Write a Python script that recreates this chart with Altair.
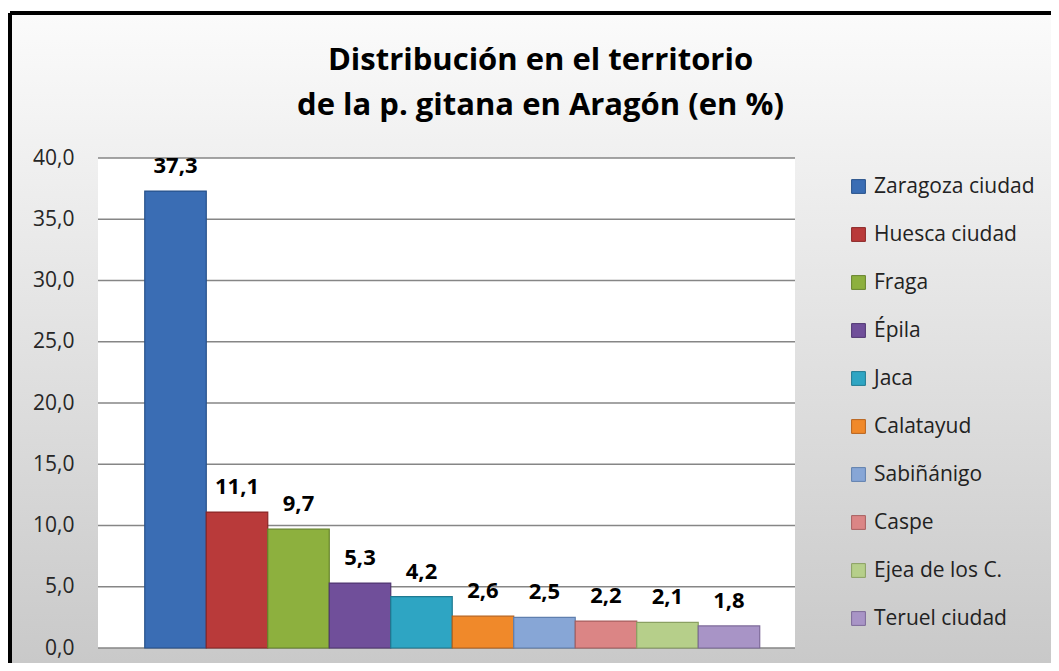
import altair as alt
import pandas as pd

categories = ["Zaragoza ciudad", "Huesca ciudad", "Fraga", "Épila", "Jaca",
              "Calatayud", "Sabiñánigo", "Caspe", "Ejea de los C.", "Teruel ciudad"]
values = [37.3, 11.1, 9.7, 5.3, 4.2, 2.6, 2.5, 2.2, 2.1, 1.8]
colors = ["#3a6db4", "#b93a3a", "#8db03e", "#704f9a", "#2ea5c3",
          "#f0892a", "#87a6d6", "#db8585", "#b6cf8a", "#a894c6"]
strokes = ["#27518a", "#8a2626", "#66832a", "#503672", "#1f7a91",
           "#b8621a", "#5f7fae", "#a85f5f", "#8aa062", "#7d6a99"]
y_ticks = [0, 5, 10, 15, 20, 25, 30, 35, 40]

W, H = 697, 490
FONT = "Open Sans"

df = pd.DataFrame({"cat": categories, "v": values})
grid_df = pd.DataFrame({"t": y_ticks})
bg_df = pd.DataFrame({"a": [0]})

yscale = alt.Scale(domain=[0, 40], nice=False)
yaxis = alt.Axis(values=y_ticks, grid=False, domain=False, ticks=False,
                 labelExpr="replace(format(datum.value, '.1f'), '.', ',')",
                 labelFontSize=21, labelColor="#262626", labelPadding=24,
                 labelFont=FONT, zindex=1, title=None)

bg = alt.Chart(bg_df).mark_rect(
    fill=alt.Gradient(gradient="linear",
                      stops=[alt.GradientStop(color="#fbfbfb", offset=0),
                             alt.GradientStop(color="#c9c9c9", offset=1)],
                      x1=0, x2=0, y1=0, y2=1),
).encode(x=alt.value(-88), x2=alt.value(953), y=alt.value(-145), y2=alt.value(505))

border_left = alt.Chart(bg_df).mark_rule(color="#000000", strokeWidth=4).encode(
    x=alt.value(-88), y=alt.value(-145), y2=alt.value(505))
border_top = alt.Chart(bg_df).mark_rule(color="#000000", strokeWidth=4).encode(
    x=alt.value(-88), x2=alt.value(953), y=alt.value(-145))

plot_bg = alt.Chart(bg_df).mark_rect(fill="#ffffff").encode(
    x=alt.value(0), x2=alt.value(W), y=alt.value(0), y2=alt.value(H))

grid = alt.Chart(grid_df).mark_rule(color="#868686", strokeWidth=1.5).encode(
    y=alt.Y("t:Q", scale=yscale, axis=yaxis),
    x=alt.value(0), x2=alt.value(W))

xenc = alt.X("cat:N", sort=categories, axis=None,
             scale=alt.Scale(paddingInner=0, paddingOuter=0.667, align=0.57))

bars = alt.Chart(df).mark_bar(strokeWidth=1.2).encode(
    x=xenc,
    y=alt.Y("v:Q", scale=yscale, axis=yaxis),
    color=alt.Color("cat:N", sort=categories,
                    scale=alt.Scale(domain=categories, range=colors),
                    legend=alt.Legend(title=None, orient="none", legendX=750, legendY=18,
                                      symbolType="square", symbolSize=190,
                                      symbolStrokeWidth=1, labelLimit=300,
                                      labelFontSize=21, labelFont=FONT,
                                      labelColor="#222222", rowPadding=26,
                                      labelOffset=5)),
    stroke=alt.Stroke("cat:N", sort=categories,
                      scale=alt.Scale(domain=categories, range=strokes), legend=None),
)

labels = alt.Chart(df).transform_calculate(
    lab="replace(format(datum.v, '.1f'), '.', ',')"
).mark_text(fontSize=22, fontWeight="bold", font=FONT, color="#000000",
            baseline="bottom", dy=-13).encode(
    x=xenc,
    y=alt.Y("v:Q", scale=yscale, axis=yaxis),
    text="lab:N",
)

chart = alt.layer(bg, border_left, border_top, plot_bg, grid, bars, labels).properties(
    width=W, height=H,
    title=alt.TitleParams(
        text=["Distribución en el territorio", "de la p. gitana en Aragón (en %)"],
        fontSize=31, font=FONT, fontWeight="bold", color="#000000",
        anchor="middle", frame="bounds", dx=10, dy=111, lineHeight=45, offset=0),
    autosize=alt.AutoSizeParams(type="none"),
    padding={"left": 90, "top": 150, "right": 256, "bottom": 15},
).configure_view(stroke=None).configure(background="#ffffff")

chart.save("out.html", embed_options={"renderer": "svg", "actions": False})
